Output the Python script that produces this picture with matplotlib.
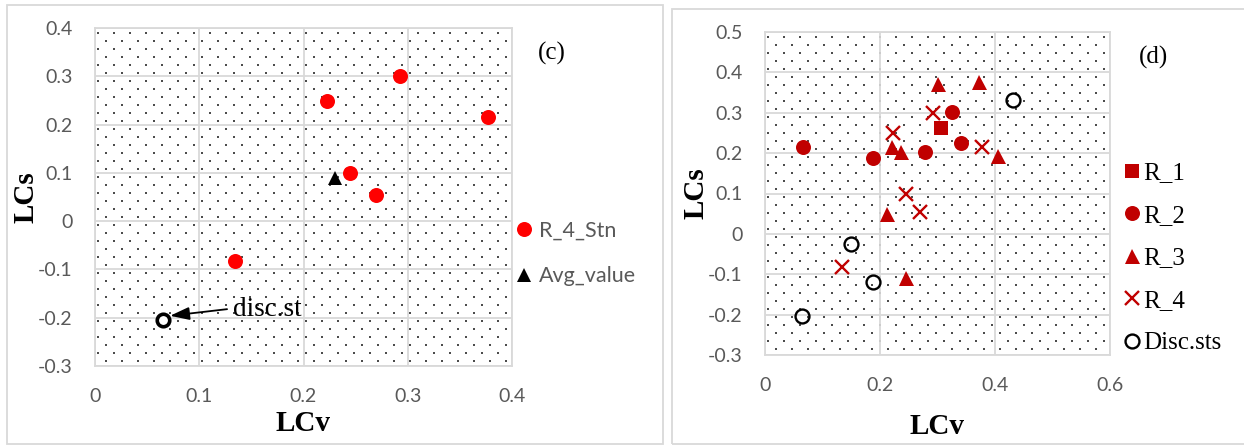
import matplotlib.pyplot as plt
import numpy as np
from matplotlib.patches import Rectangle

# panel (c): R_4 stations, average and discordant station
c_stn_lcv = [0.293, 0.223, 0.377, 0.245, 0.270, 0.134]
c_stn_lcs = [0.300, 0.249, 0.216, 0.100, 0.054, -0.083]
c_avg_lcv = [0.230]
c_avg_lcs = [0.090]
c_disc_lcv = [0.065]
c_disc_lcs = [-0.204]

# panel (d): regions R_1..R_4 and discordant stations
d_r1_lcv = [0.306]
d_r1_lcs = [0.263]
d_r2_lcv = [0.066, 0.188, 0.278, 0.325, 0.341]
d_r2_lcs = [0.215, 0.187, 0.203, 0.302, 0.224]
d_r3_lcv = [0.301, 0.373, 0.221, 0.237, 0.406, 0.213, 0.246]
d_r3_lcs = [0.370, 0.375, 0.215, 0.203, 0.192, 0.050, -0.109]
d_r4_lcv = [0.293, 0.223, 0.377, 0.245, 0.270, 0.134]
d_r4_lcs = [0.299, 0.249, 0.216, 0.100, 0.054, -0.083]
d_disc_lcv = [0.431, 0.149, 0.188, 0.064]
d_disc_lcs = [0.331, -0.024, -0.118, -0.203]

c_xticks = [0, 0.1, 0.2, 0.3, 0.4]
c_xlabels = ["0", "0.1", "0.2", "0.3", "0.4"]
c_yticks = [-0.3, -0.2, -0.1, 0, 0.1, 0.2, 0.3, 0.4]
c_ylabels = ["-0.3", "-0.2", "-0.1", "0", "0.1", "0.2", "0.3", "0.4"]
d_xticks = [0, 0.2, 0.4, 0.6]
d_xlabels = ["0", "0.2", "0.4", "0.6"]
d_yticks = [-0.3, -0.2, -0.1, 0, 0.1, 0.2, 0.3, 0.4, 0.5]
d_ylabels = ["-0.3", "-0.2", "-0.1", "0", "0.1", "0.2", "0.3", "0.4", "0.5"]

GRID = "#D9D9D9"
TICK = "#595959"
SANS = "Lato"
SERIF = "Liberation Serif"
W, H = 1244, 447


def fig_box(x0, y0, x1, y1):
    """ pixel box (top-left origin) -> figure fraction [l, b, w, h] """
    return [x0 / W, 1 - y1 / H, (x1 - x0) / W, (y1 - y0) / H]


def dotted_background(ax):
    # Excel-like 5% dotted fill: a dot every 16 px, rows every 8 px, staggered
    bbox = ax.get_window_extent()
    w, h = int(round(bbox.width)), int(round(bbox.height))
    yy, xx = np.mgrid[0:h, 0:w]
    row = (yy + 4) // 8
    on = ((yy + 4) % 8 < 2) & (((xx + 6 + 8 * (row % 2)) % 16) < 2)
    img = np.ones((h, w))
    img[on] = 0.3
    x0, x1 = ax.get_xlim()
    y0, y1 = ax.get_ylim()
    ax.imshow(img, cmap="gray", vmin=0, vmax=1, extent=(x0, x1, y0, y1),
              aspect="auto", interpolation="nearest", zorder=0)


def style_axes(ax, xticks, xlabels, yticks, ylabels):
    ax.set_xticks(xticks, xlabels)
    ax.set_yticks(yticks, ylabels)
    ax.tick_params(length=0, pad=16, labelsize=14, labelcolor=TICK)
    for lab in ax.get_xticklabels() + ax.get_yticklabels():
        lab.set_fontfamily(SANS)
    ax.grid(color=GRID, linewidth=1.3, zorder=1)
    ax.set_axisbelow(False)
    for sp in ax.spines.values():
        sp.set_color(GRID)
        sp.set_linewidth(1.3)
    dotted_background(ax)


fig = plt.figure(figsize=(W / 100, H / 100), dpi=100)

# panel borders
fig.patches.append(Rectangle((7 / W, 1 - 444 / H), 656 / W, 439 / H,
                             transform=fig.transFigure, fill=False,
                             edgecolor=GRID, linewidth=1.3))
fig.patches.append(Rectangle((672 / W, 1 - 444 / H), 600 / W, 435 / H,
                             transform=fig.transFigure, fill=False,
                             edgecolor=GRID, linewidth=1.3))

# ---- panel (c)
ax1 = fig.add_axes(fig_box(95, 28, 512, 366))
ax1.set_xlim(0, 0.4)
ax1.set_ylim(-0.3, 0.4)
style_axes(ax1, c_xticks, c_xlabels, c_yticks, c_ylabels)

ax1.plot(c_stn_lcv, c_stn_lcs, "o", color="#FF0000", ms=10.8, mew=0,
         label="R_4_Stn", zorder=3)
ax1.plot(c_avg_lcv, c_avg_lcs, "^", color="black", ms=10.5, mew=0,
         label="Avg_value", zorder=3)
ax1.plot(c_disc_lcv, c_disc_lcs, "o", mfc="white", mec="black", ms=9,
         mew=2.6, zorder=3)
ax1.annotate("disc.st", xy=(0.072, -0.196), xytext=(0.132, -0.197),
             fontsize=19.5, family=SERIF, ha="left", va="baseline",
             arrowprops=dict(arrowstyle="-|>,head_length=0.6,head_width=0.2",
                             color="black", lw=1.3, shrinkA=2, shrinkB=0,
                             relpos=(0, 0.55)),
             zorder=4)

ax1.set_xlabel("LCv", fontsize=21, fontweight="bold", family=SERIF)
ax1.set_ylabel("LCs", fontsize=21, fontweight="bold", family=SERIF)
ax1.xaxis.set_label_coords(0.5, -0.13)
ax1.yaxis.set_label_coords(-0.132, 0.5)

leg1 = ax1.legend(loc="center left", bbox_to_anchor=(516 / W, 1 - 253.5 / H),
                  bbox_transform=fig.transFigure, frameon=False, numpoints=1,
                  handlelength=0.75, handletextpad=0.3, labelspacing=1.2,
                  borderpad=0, borderaxespad=0,
                  prop=dict(family=SANS, size=15.5))
for t in leg1.get_texts():
    t.set_color(TICK)

fig.text(552 / W, 1 - 53 / H, "(c)", fontsize=18, family=SERIF,
         ha="center", va="center")

# ---- panel (d)
ax2 = fig.add_axes(fig_box(765, 32, 1110, 355))
ax2.set_xlim(0, 0.6)
ax2.set_ylim(-0.3, 0.5)
style_axes(ax2, d_xticks, d_xlabels, d_yticks, d_ylabels)

red = "#C00000"
ax2.plot(d_r1_lcv, d_r1_lcs, "s", color=red, ms=10, mew=0, label="R_1", zorder=3)
ax2.plot(d_r2_lcv, d_r2_lcs, "o", color=red, ms=10.8, mew=0, label="R_2", zorder=3)
ax2.plot(d_r3_lcv, d_r3_lcs, "^", color=red, ms=10.8, mew=0, label="R_3", zorder=3)
ax2.plot(d_r4_lcv, d_r4_lcs, "x", color=red, ms=9.5, mew=1.7, label="R_4", zorder=3)
ax2.plot(d_disc_lcv, d_disc_lcs, "o", mfc="none", mec="black", ms=10,
         mew=1.7, label="Disc.sts", zorder=3)

ax2.set_xlabel("LCv", fontsize=21, fontweight="bold", family=SERIF)
ax2.set_ylabel("LCs", fontsize=21, fontweight="bold", family=SERIF)
ax2.xaxis.set_label_coords(0.5, -0.179)
ax2.yaxis.set_label_coords(-0.162, 0.5)

ax2.legend(loc="center left", bbox_to_anchor=(1124 / W, 1 - 258 / H),
           bbox_transform=fig.transFigure, frameon=False, numpoints=1,
           handlelength=0.65, handletextpad=0.12, labelspacing=0.8,
           borderpad=0, borderaxespad=0,
           prop=dict(family=SERIF, size=18))

fig.text(1153 / W, 1 - 57 / H, "(d)", fontsize=18, family=SERIF,
         ha="center", va="center")

fig.savefig("out.png", dpi=100)
